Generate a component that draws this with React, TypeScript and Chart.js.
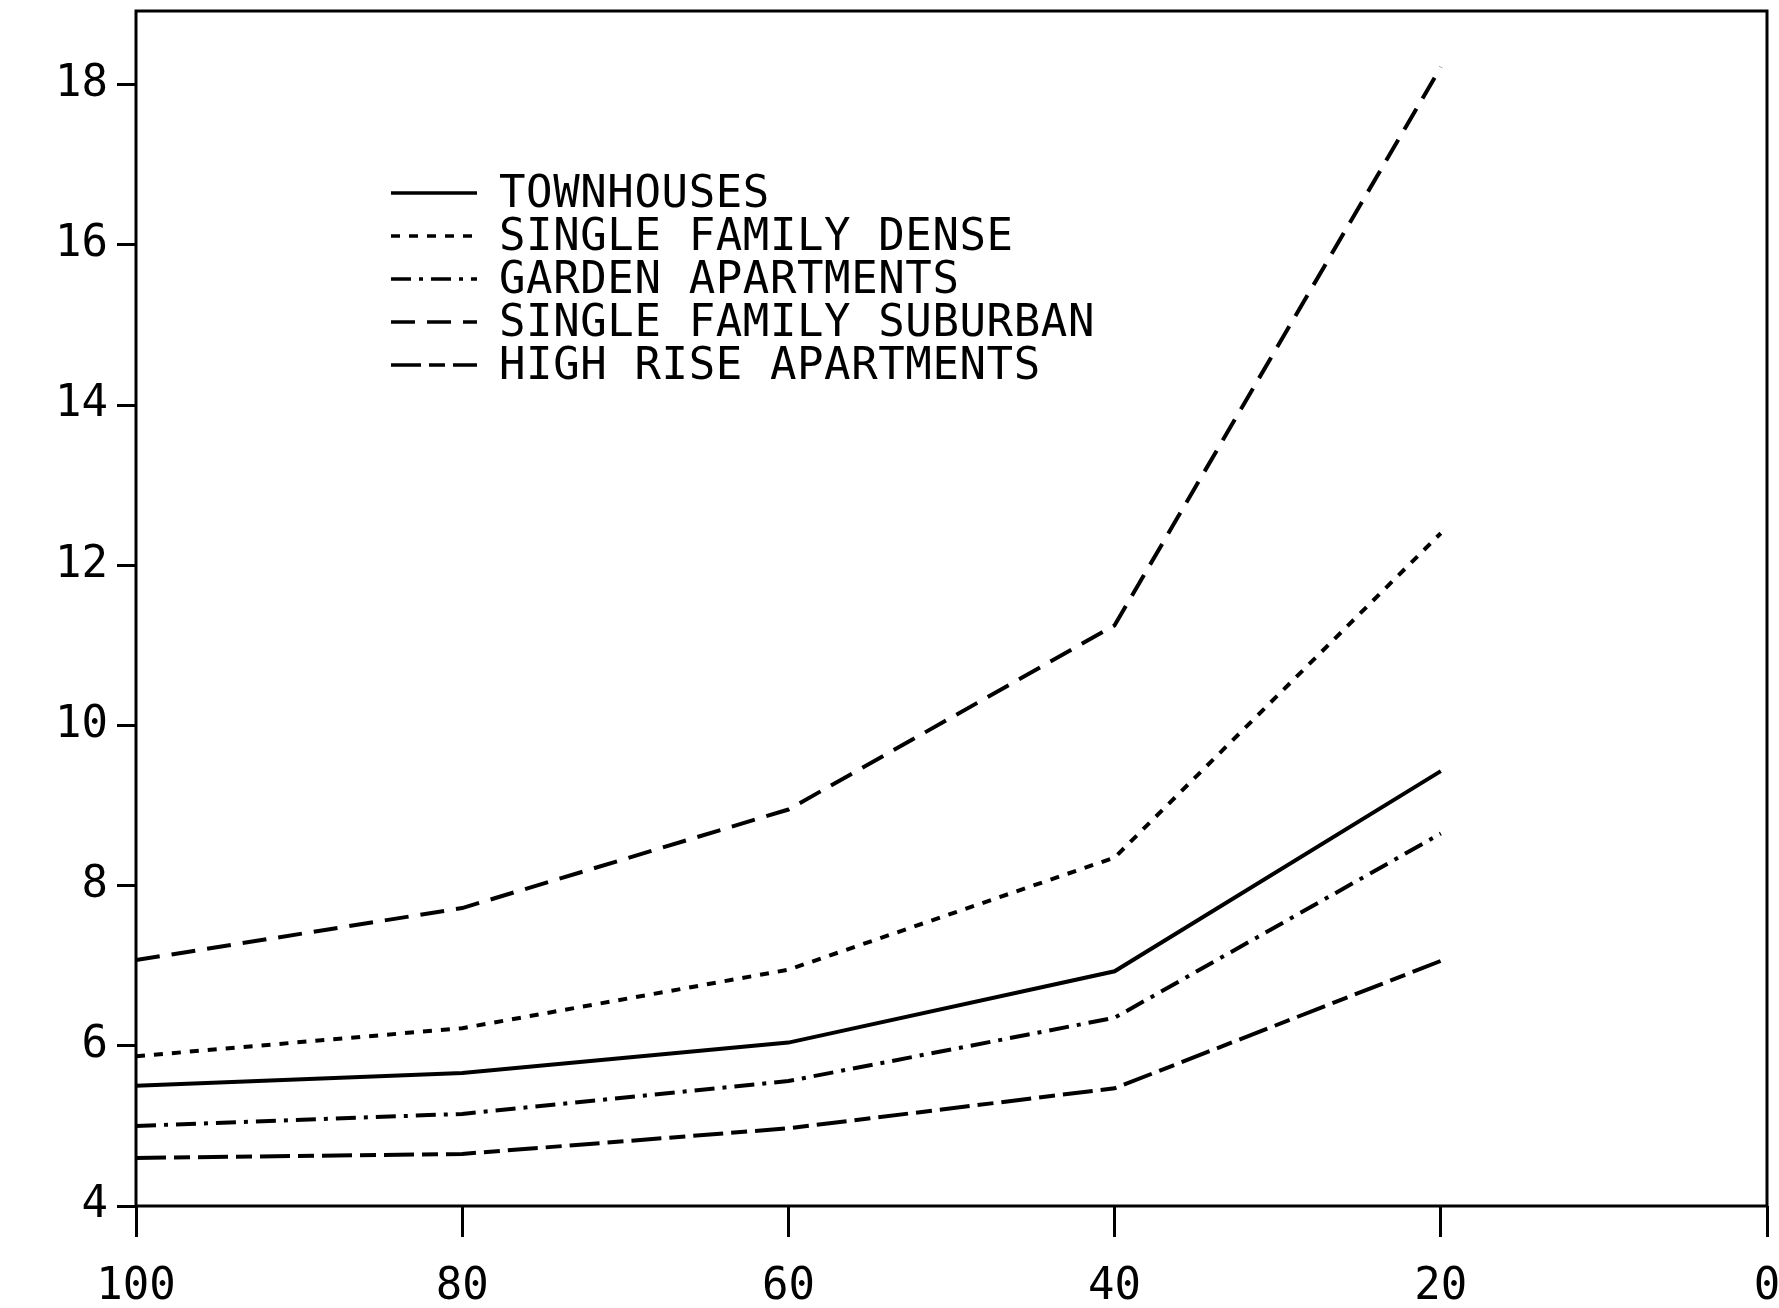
import React, { useEffect, useRef } from "react";
import { Chart, registerables } from "chart.js";

Chart.register(...registerables);

const xValues = [100, 80, 60, 40, 20];
const townhouses = [5.5, 5.66, 6.04, 6.93, 9.43];
const singleFamilyDense = [5.87, 6.22, 6.95, 8.35, 12.4];
const gardenApartments = [5.0, 5.15, 5.56, 6.35, 8.65];
const singleFamilySuburban = [7.07, 7.72, 8.95, 11.25, 18.22];
const highRiseApartments = [4.6, 4.65, 4.97, 5.47, 7.06];

const seriesNames = [
  "TOWNHOUSES",
  "SINGLE FAMILY DENSE",
  "GARDEN APARTMENTS",
  "SINGLE FAMILY SUBURBAN",
  "HIGH RISE APARTMENTS",
];
const xTicks = [100, 80, 60, 40, 20, 0];
const yTicks = [4, 6, 8, 10, 12, 14, 16, 18];

const FONT = "'DejaVu Sans Mono', monospace";

const boxPlugin = {
  id: "frameAndLegend",
  afterDatasetsDraw(chart: any) {
    const { ctx, chartArea } = chart;
    ctx.save();
    ctx.strokeStyle = "#000";
    ctx.lineWidth = 3;
    ctx.setLineDash([]);
    ctx.strokeRect(chartArea.left, chartArea.top, chartArea.right - chartArea.left, chartArea.bottom - chartArea.top);

    // legend
    const x0 = chartArea.left + 255;
    const x1 = chartArea.left + 341;
    const tx = chartArea.left + 363;
    const y0 = chartArea.top + 182;
    const dy = 43;
    chart.data.datasets.forEach((ds: any, i: number) => {
      const y = y0 + i * dy;
      ctx.beginPath();
      ctx.setLineDash(ds.borderDash || []);
      ctx.lineWidth = 3.5;
      ctx.moveTo(x0, y);
      ctx.lineTo(x1, y);
      ctx.stroke();
      ctx.setLineDash([]);
      ctx.fillStyle = "#000";
      ctx.font = `44px ${FONT}`;
      (ctx as any).letterSpacing = "0.6px";
      ctx.textBaseline = "middle";
      ctx.textAlign = "left";
      ctx.fillText(ds.label, tx, y + 3);
    });
    ctx.restore();
  },
};

export default function App() {
  const ref = useRef<HTMLCanvasElement>(null);
  useEffect(() => {
    document.body.style.margin = "0";
    const mk = (vals: number[]) => vals.map((v, i) => ({ x: xValues[i], y: v }));
    const dashes = [[], [9, 9], [20, 8, 4, 8], [24, 12], [30, 8, 16, 8]];
    const all = [townhouses, singleFamilyDense, gardenApartments, singleFamilySuburban, highRiseApartments];
    const chart = new Chart(ref.current!, {
      type: "line",
      data: {
        datasets: all.map((vals, i) => ({
          label: seriesNames[i],
          data: mk(vals),
          borderColor: "#000",
          borderWidth: 4,
          borderDash: dashes[i],
          pointRadius: 0,
          fill: false,
          tension: 0,
        })),
      },
      options: {
        animation: false,
        responsive: false,
        layout: { padding: { top: 11, right: 12, left: 0, bottom: 0 } },
        plugins: { legend: { display: false }, tooltip: { enabled: false } },
        scales: {
          x: {
            type: "linear",
            reverse: true,
            min: 0,
            max: 100,
            afterBuildTicks: (s: any) => {
              s.ticks = xTicks.map((v) => ({ value: v }));
            },
            afterFit: (s: any) => {
              s.height = 102;
              s.paddingLeft = 0;
              s.paddingRight = 0;
            },
            grid: { drawOnChartArea: false, drawTicks: true, tickLength: 31, lineWidth: 3, color: "#000" },
            border: { display: false },
            ticks: {
              color: "#000",
              padding: 24,
              maxRotation: 0,
              autoSkip: false,
              font: { family: FONT, size: 44 },
              callback: (v: any) => String(v),
            },
          },
          y: {
            type: "linear",
            min: 4,
            max: 18.92,
            afterBuildTicks: (s: any) => {
              s.ticks = yTicks.map((v) => ({ value: v }));
            },
            afterFit: (s: any) => {
              s.width = 136;
              s.paddingTop = 0;
              s.paddingBottom = 0;
            },
            grid: { drawOnChartArea: false, drawTicks: true, tickLength: 19, lineWidth: 3, color: "#000" },
            border: { display: false },
            ticks: {
              color: "#000",
              padding: 9,
              autoSkip: false,
              font: { family: FONT, size: 44 },
              callback: (v: any) => String(v),
            },
          },
        },
      },
      plugins: [boxPlugin],
    });
    return () => chart.destroy();
  }, []);
  return (
    <div style={{ position: "absolute", left: 0, top: 0, width: 1779, height: 1308, background: "#fff" }}>
      <canvas ref={ref} width={1779} height={1308} style={{ width: 1779, height: 1308 }} />
    </div>
  );
}
